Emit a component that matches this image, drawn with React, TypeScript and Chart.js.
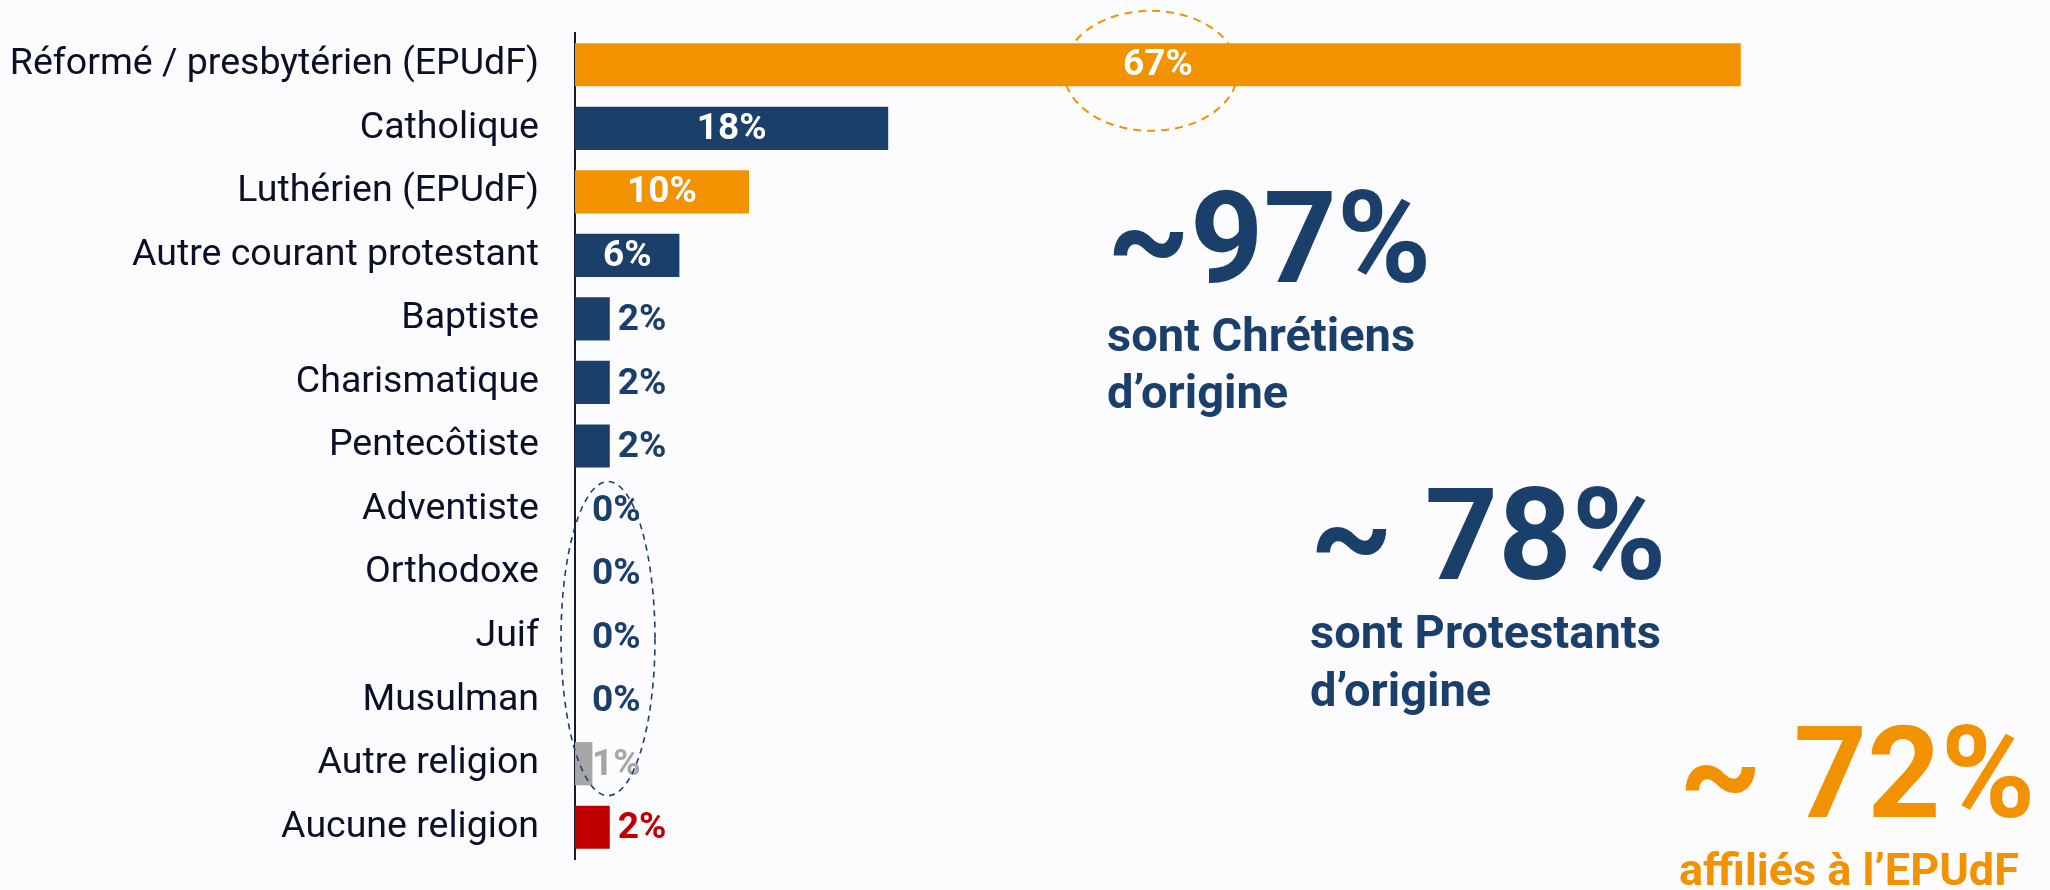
import React, { useEffect, useRef } from "react";
import { Chart, registerables } from "chart.js";

Chart.register(...registerables);

const categories = [
  "Réformé / presbytérien (EPUdF)",
  "Catholique",
  "Luthérien (EPUdF)",
  "Autre courant protestant",
  "Baptiste",
  "Charismatique",
  "Pentecôtiste",
  "Adventiste",
  "Orthodoxe",
  "Juif",
  "Musulman",
  "Autre religion",
  "Aucune religion",
];

const values = [67, 18, 10, 6, 2, 2, 2, 0, 0, 0, 0, 1, 2];

const NAVY = "#1B3F6B";
const ORANGE = "#F39200";
const GRAY = "#A6A6A6";
const RED = "#C00000";
const BG = "#FCFCFE";
const TEXT = "#0B1026";

const barColors = [ORANGE, NAVY, ORANGE, NAVY, NAVY, NAVY, NAVY, NAVY, NAVY, NAVY, NAVY, GRAY, RED];
const valueLabelColors = ["#FFFFFF", "#FFFFFF", "#FFFFFF", "#FFFFFF", NAVY, NAVY, NAVY, NAVY, NAVY, NAVY, NAVY, GRAY, RED];

const bigNumbers = ["~97%", "~ 78%", "~ 72%"];
const captionLines = [
  ["sont Chrétiens", "d’origine"],
  ["sont Protestants", "d’origine"],
  ["affiliés à l’EPUdF"],
];
const calloutColors = [NAVY, NAVY, ORANGE];

const FONT = "Roboto, 'Noto Sans', sans-serif";

const valueLabelPlugin = {
  id: "valueLabels",
  afterDatasetsDraw(chart: any) {
    const ctx = chart.ctx;
    const meta = chart.getDatasetMeta(0);
    ctx.save();
    ctx.font = `bold 37px ${FONT}`;
    ctx.textBaseline = "middle";
    meta.data.forEach((bar: any, i: number) => {
      const v = values[i];
      const text = `${v}%`;
      ctx.fillStyle = valueLabelColors[i];
      if (v >= 5) {
        ctx.textAlign = "center";
        ctx.fillText(text, (bar.base + bar.x) / 2, bar.y + 1);
      } else {
        ctx.textAlign = "left";
        const x = v <= 1 ? bar.base + 17 : bar.x + 8;
        ctx.fillText(text, x, bar.y + 2);
      }
    });
    ctx.restore();
  },
};

const annotationPlugin = {
  id: "annotations",
  afterDraw(chart: any) {
    const ctx = chart.ctx;
    const meta = chart.getDatasetMeta(0);
    ctx.save();

    // orange dashed ellipse around the 67% label
    const b0 = meta.data[0];
    ctx.beginPath();
    ctx.setLineDash([8, 6]);
    ctx.lineWidth = 2;
    ctx.strokeStyle = ORANGE;
    ctx.ellipse((b0.base + b0.x) / 2 - 7, b0.y + 6, 87, 60, 0, 0, Math.PI * 2);
    ctx.stroke();

    // navy dashed ellipse around the 0% / 1% labels
    const top = meta.data[7];
    const bot = meta.data[11];
    ctx.beginPath();
    ctx.setLineDash([6, 5]);
    ctx.lineWidth = 1.6;
    ctx.strokeStyle = NAVY;
    ctx.ellipse(top.base + 33, (top.y + bot.y) / 2 + 2, 47, (bot.y - top.y) / 2 + 30, 0, 0, Math.PI * 2);
    ctx.stroke();
    ctx.setLineDash([]);

    // callouts
    const pos = [
      { x: 1107, y: 282, cap: [351, 408], size: 47 },
      { x: 1310, y: 579, cap: [648, 706], size: 47 },
      { x: 1679, y: 817, cap: [885], size: 45 },
    ];
    ctx.textAlign = "left";
    ctx.textBaseline = "alphabetic";
    bigNumbers.forEach((t, i) => {
      ctx.fillStyle = calloutColors[i];
      ctx.font = `bold 128px ${FONT}`;
      ctx.fillText(t, pos[i].x, pos[i].y);
      ctx.font = `bold ${pos[i].size}px ${FONT}`;
      captionLines[i].forEach((line, j) => {
        ctx.fillText(line, pos[i].x, pos[i].cap[j]);
      });
    });
    ctx.restore();
  },
};

export default function App() {
  const ref = useRef<HTMLCanvasElement>(null);

  useEffect(() => {
    document.body.style.margin = "0";
    document.body.style.background = BG;
    if (!ref.current) return;
    const chart = new Chart(ref.current, {
      type: "bar",
      data: {
        labels: categories,
        datasets: [
          {
            data: values,
            backgroundColor: barColors,
            borderWidth: 0,
            barPercentage: 0.68,
            categoryPercentage: 1,
          },
        ],
      },
      options: {
        indexAxis: "y",
        responsive: false,
        maintainAspectRatio: false,
        devicePixelRatio: 1,
        animation: false,
        layout: { padding: { left: 0, right: 83, top: 33, bottom: 31 } },
        scales: {
          x: { display: false, min: 0, max: 80 },
          y: {
            grid: { display: false, drawTicks: false },
            border: { display: true, color: "#141B2E", width: 2 },
            ticks: {
              padding: 36,
              color: TEXT,
              font: { family: FONT, size: 37.5, weight: "normal" },
              autoSkip: false,
            },
            afterFit(scale: any) {
              scale.width = 575;
              scale.paddingTop = 0;
              scale.paddingBottom = 0;
            },
          },
        },
        plugins: {
          legend: { display: false },
          tooltip: { enabled: false },
        },
      },
      plugins: [valueLabelPlugin, annotationPlugin],
    });
    return () => chart.destroy();
  }, []);

  return (
    <div style={{ position: "absolute", left: 0, top: 0, width: 2050, height: 890, background: BG }}>
      <canvas ref={ref} width={2050} height={890} style={{ display: "block", width: 2050, height: 890 }} />
    </div>
  );
}
